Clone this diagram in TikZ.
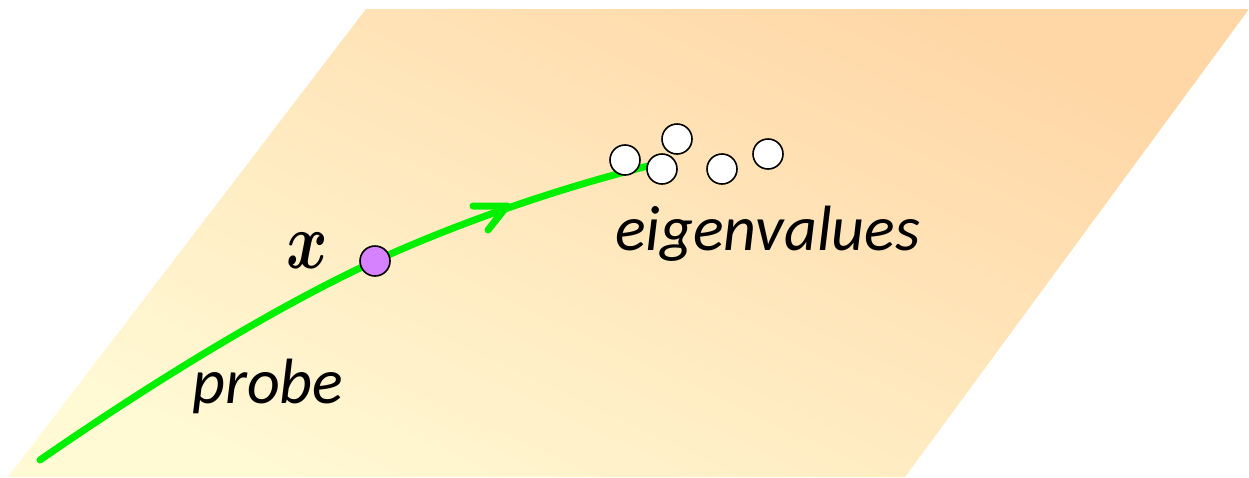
\documentclass[tikz,border=0pt]{standalone}
\usepackage{fontspec}
\setmainfont{Carlito}
\usepackage{graphicx}
\definecolor{planeLow}{HTML}{FFF9D4}
\definecolor{planeHigh}{HTML}{FFD6A6}
\definecolor{probeGreen}{HTML}{00F000}
\definecolor{dotPurple}{HTML}{D682FF}
\tikzset{
  probeline/.style={draw=probeGreen, line width=7pt, line cap=round, line join=round},
  eigdot/.style={circle, draw=black, line width=1.6pt, fill=white, minimum size=30pt, inner sep=0pt},
  probedot/.style={circle, draw=black, line width=1.6pt, fill=dotPurple, minimum size=30pt, inner sep=0pt},
  lbl/.style={inner sep=0pt, anchor=base west, font=\fontsize{64}{72}\selectfont\itshape}
}
\begin{document}
\begin{tikzpicture}[x=1pt,y=-1pt]
\useasboundingbox (0,0) rectangle (1249,477);
% plane
\shade[top color=planeHigh, bottom color=planeLow, shading angle=-25]
  (8,477) -- (905,477) -- (1249,9) -- (366,9) -- cycle;
% curve
\coordinate (start) at (40,460);
\coordinate (mid) at (375,261);
\coordinate (tip) at (507,206);
\coordinate (end) at (648,166);
\draw[probeline] (start) .. controls (170,370) and (290,300) .. (mid)
  .. controls (460,222) and (560,188) .. (end);
\draw[probeline] (473,206) -- (tip) -- (488,230);
% dots
\node[probedot] (xdot) at (mid) {};
\node[eigdot] (e1) at (625,160) {};
\node[eigdot] (e2) at (677,139) {};
\node[eigdot] (e3) at (662,169) {};
\node[eigdot] (e4) at (722,169) {};
\node[eigdot] (e5) at (768,154) {};
% labels
\node[inner sep=0pt, anchor=base west] (xl) at (286,268) {\scalebox{6.3}[8.0]{\boldmath$x$}};
\node[lbl] (probe) at (192,403) {probe};
\node[lbl] (eig) at (615,250) {eigenvalues};
\end{tikzpicture}
\end{document}
